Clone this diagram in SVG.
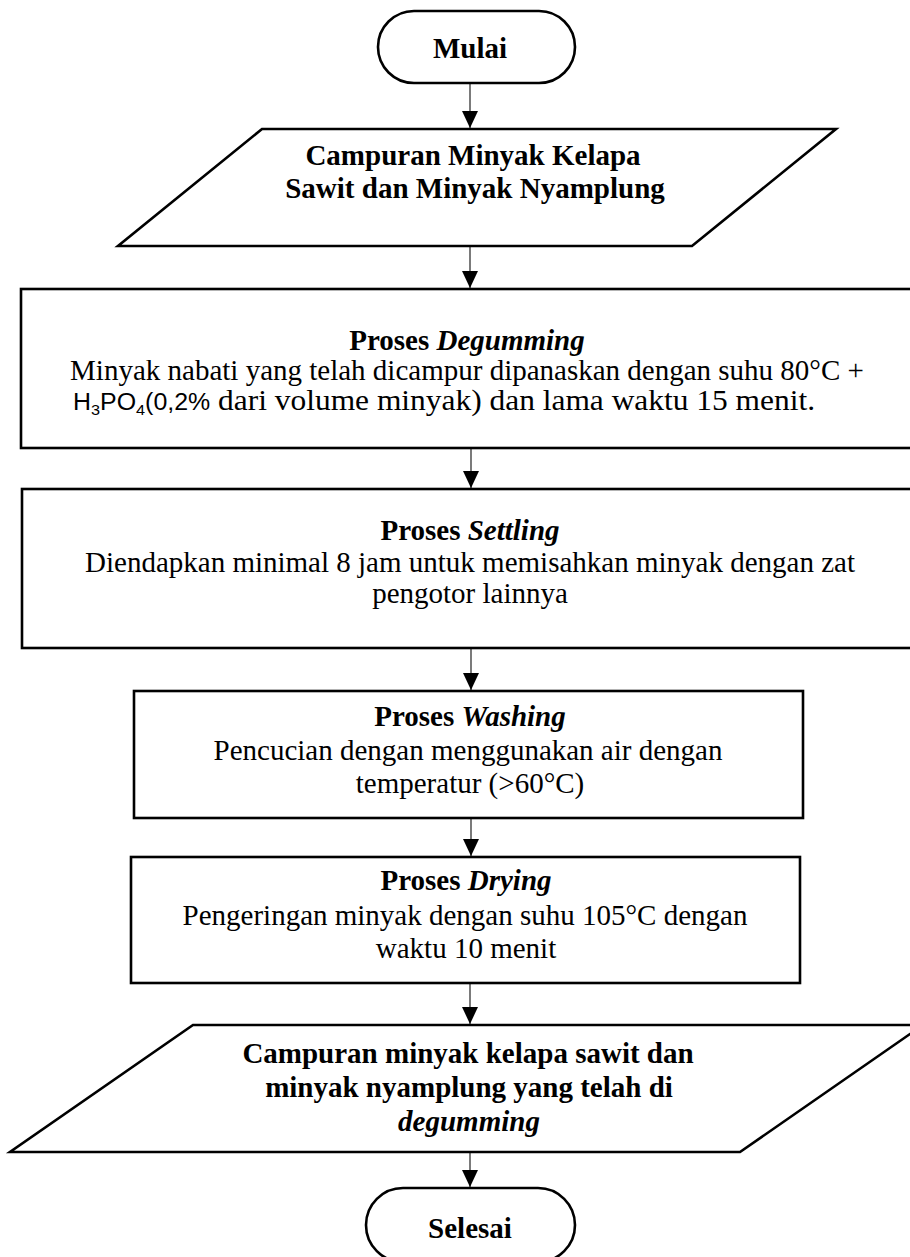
<svg xmlns="http://www.w3.org/2000/svg" width="910" height="1257" viewBox="0 0 910 1257">
  <style>
    .shape { fill: #ffffff; stroke: #000000; stroke-width: 2.6; }
    .conn { stroke: #333333; stroke-width: 1.3; fill: none; }
    .t { font-family: "Liberation Serif", "Times New Roman", serif; font-size: 29px; fill: #000000; text-anchor: middle; }
    .b { font-weight: bold; }
    .i { font-style: italic; }
    .sans { font-family: "Liberation Sans", Arial, sans-serif; font-size: 23px; }
    .sub { font-family: "Liberation Sans", Arial, sans-serif; font-size: 15px; }
  </style>
  <defs>
    <marker id="arrow" markerUnits="userSpaceOnUse" markerWidth="17" markerHeight="16" refX="17" refY="8" orient="auto" viewBox="0 0 17 16">
      <path d="M0,0 L17,8 L0,16 Z" fill="#000000"/>
    </marker>
  </defs>

  <g id="connectors">
    <line class="conn" x1="470" y1="83" x2="470" y2="128" marker-end="url(#arrow)"/>
    <line class="conn" x1="470" y1="247" x2="470" y2="288" marker-end="url(#arrow)"/>
    <line class="conn" x1="471" y1="449" x2="471" y2="488" marker-end="url(#arrow)"/>
    <line class="conn" x1="471" y1="649" x2="471" y2="690" marker-end="url(#arrow)"/>
    <line class="conn" x1="471" y1="819" x2="471" y2="856" marker-end="url(#arrow)"/>
    <line class="conn" x1="470" y1="984" x2="470" y2="1024" marker-end="url(#arrow)"/>
    <line class="conn" x1="470" y1="1153" x2="470" y2="1187" marker-end="url(#arrow)"/>
  </g>

  <g id="mulai">
    <rect class="shape" x="378" y="11" width="197" height="72" rx="36" ry="36"/>
    <text class="t b" x="470" y="58">Mulai</text>
  </g>

  <g id="input">
    <polygon class="shape" points="262,129 836,129 692,246 118,246"/>
    <text class="t b" x="473" y="165">Campuran Minyak Kelapa</text>
    <text class="t b" x="475" y="198">Sawit dan Minyak Nyamplung</text>
  </g>

  <g id="degumming">
    <rect class="shape" x="21" y="289" width="900" height="159"/>
    <text class="t" x="467" y="350"><tspan class="b">Proses </tspan><tspan class="b i">Degumming</tspan></text>
    <text class="t" x="467" y="380">Minyak nabati yang telah dicampur dipanaskan dengan suhu 80°C +</text>
    <text class="t" x="73" y="410" style="text-anchor:start" textLength="742" lengthAdjust="spacingAndGlyphs"><tspan class="sans">H</tspan><tspan class="sub" dy="5">3</tspan><tspan class="sans" dy="-5">PO</tspan><tspan class="sub" dy="5">4</tspan><tspan class="sans" dy="-5">(0,2%</tspan> dari volume minyak) dan lama waktu 15 menit.</text>
  </g>

  <g id="settling">
    <rect class="shape" x="22" y="489" width="900" height="159"/>
    <text class="t" x="470" y="540"><tspan class="b">Proses </tspan><tspan class="b i">Settling</tspan></text>
    <text class="t" x="470" y="572">Diendapkan minimal 8 jam untuk memisahkan minyak dengan zat</text>
    <text class="t" x="470" y="603">pengotor lainnya</text>
  </g>

  <g id="washing">
    <rect class="shape" x="134" y="691" width="669" height="127"/>
    <text class="t" x="470" y="726"><tspan class="b">Proses </tspan><tspan class="b i">Washing</tspan></text>
    <text class="t" x="468" y="760">Pencucian dengan menggunakan air dengan</text>
    <text class="t" x="470" y="793">temperatur (&gt;60°C)</text>
  </g>

  <g id="drying">
    <rect class="shape" x="131" y="857" width="669" height="126"/>
    <text class="t" x="466" y="890"><tspan class="b">Proses </tspan><tspan class="b i">Drying</tspan></text>
    <text class="t" x="465" y="925">Pengeringan minyak dengan suhu 105°C dengan</text>
    <text class="t" x="466" y="958">waktu 10 menit</text>
  </g>

  <g id="output">
    <polygon class="shape" points="193,1025 923,1025 740,1152 10,1152"/>
    <text class="t b" x="468" y="1063">Campuran minyak kelapa sawit dan</text>
    <text class="t b" x="469" y="1097">minyak nyamplung yang telah di</text>
    <text class="t b i" x="469" y="1131">degumming</text>
  </g>

  <g id="selesai">
    <rect class="shape" x="366" y="1188" width="209" height="74" rx="37" ry="37"/>
    <text class="t b" x="470" y="1238">Selesai</text>
  </g>
</svg>
